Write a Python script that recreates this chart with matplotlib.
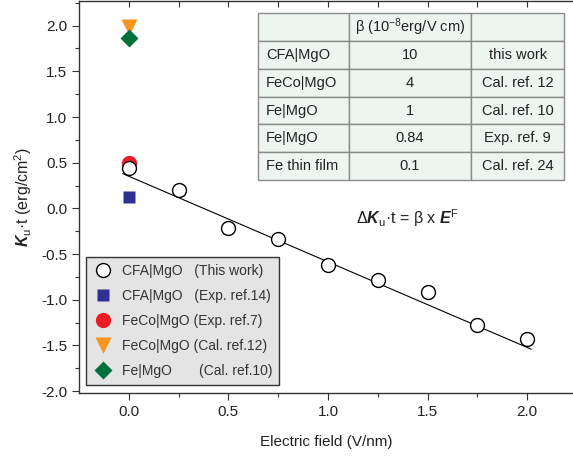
import matplotlib.pyplot as plt

plt.rcParams['font.family'] = ['Liberation Sans', 'DejaVu Sans']
plt.rcParams['mathtext.fontset'] = 'custom'
plt.rcParams['mathtext.rm'] = 'Liberation Sans'
plt.rcParams['mathtext.it'] = 'Liberation Sans:italic'
plt.rcParams['mathtext.bf'] = 'Liberation Sans:bold'
plt.rcParams['mathtext.bfit'] = 'Liberation Sans:bold:italic'

# data
field = [0.0, 0.25, 0.5, 0.75, 1.0, 1.25, 1.5, 1.75, 2.0]
ku_this = [0.44, 0.20, -0.21, -0.33, -0.62, -0.78, -0.92, -1.28, -1.43]
fit_x = [-0.03, 2.02]
fit_y = [0.38, -1.54]

ref_x = [0.0]
ku_cfa_exp = [0.13]
ku_feco_exp = [0.50]
ku_feco_cal = [1.99]
ku_fe_cal = [1.86]

table_rows = [['', 'β (10$^{-8}$erg/V cm)', ''],
              ['CFA|MgO', '10', 'this work'],
              ['FeCo|MgO', '4', 'Cal. ref. 12'],
              ['Fe|MgO', '1', 'Cal. ref. 10'],
              ['Fe|MgO', '0.84', 'Exp. ref. 9'],
              ['Fe thin film', '0.1', 'Cal. ref. 24']]

fig = plt.figure(figsize=(5.73, 4.58), dpi=100)
ax = fig.add_axes([0.1379, 0.1419, 0.862, 0.856])

ax.plot(fit_x, fit_y, color='k', lw=0.8, zorder=2)
ax.plot(field, ku_this, 'o', ms=10, mfc='white', mec='k', mew=1.0,
        label='CFA|MgO   (This work)', zorder=3)
ax.plot(ref_x, ku_cfa_exp, 's', ms=9, color='#2e3192', mec='none',
        label='CFA|MgO   (Exp. ref.14)')
ax.plot(ref_x, ku_feco_exp, 'o', ms=11, color='#ed1c24', mec='none',
        label='FeCo|MgO (Exp. ref.7)', zorder=2)
ax.plot(ref_x, ku_feco_cal, 'v', ms=12, color='#f7941d', mec='none',
        label='FeCo|MgO (Cal. ref.12)')
ax.plot(ref_x, ku_fe_cal, 'D', ms=9, color='#00703c', mec='none',
        label='Fe|MgO       (Cal. ref.10)')

ax.set_xlim(-0.25, 2.23)
ax.set_ylim(-2.02, 2.27)
ax.set_xticks([0.0, 0.5, 1.0, 1.5, 2.0])
ax.set_xticks([0.25, 0.75, 1.25, 1.75], minor=True)
ax.set_yticks([-2.0, -1.5, -1.0, -0.5, 0.0, 0.5, 1.0, 1.5, 2.0])
ax.set_yticks([-1.75, -1.25, -0.75, -0.25, 0.25, 0.75, 1.25, 1.75, 2.25], minor=True)
ax.set_xticklabels(['0.0', '0.5', '1.0', '1.5', '2.0'])
ax.set_yticklabels(['-2.0', '-1.5', '-1.0', '-0.5', '0.0', '0.5', '1.0', '1.5', '2.0'])
ax.tick_params(which='major', length=5, width=0.8, color='#333333',
               labelsize=11, labelcolor='#222222')
ax.tick_params(which='minor', length=3, width=0.8, color='#333333')
for s in ['left', 'bottom', 'top']:
    ax.spines[s].set_color('#333333')
    ax.spines[s].set_linewidth(1.0)
ax.spines['right'].set_visible(False)

top = ax.secondary_xaxis('top')
top.set_xticks([0.0, 0.5, 1.0, 1.5, 2.0])
top.set_xticks([0.25, 0.75, 1.25, 1.75], minor=True)
top.set_xticklabels([])
top.tick_params(which='both', direction='in', length=4, width=0.8, color='#333333')
top.spines['top'].set_visible(False)

ax.set_xlabel('Electric field (V/nm)', fontsize=11, color='#222222', labelpad=12)
ax.set_ylabel(r'$\boldsymbol{K}_\mathrm{u}$·t (erg/cm$^2$)', fontsize=11.5,
              color='#222222', labelpad=5)

leg = ax.legend(loc='lower left', bbox_to_anchor=(0.014, 0.02), fontsize=10,
                frameon=True, fancybox=False, handletextpad=0.7,
                labelspacing=0.8, borderpad=0.5, handlelength=1.4,
                borderaxespad=0)
leg.get_frame().set_facecolor('#e4e4e4')
leg.get_frame().set_edgecolor('#333333')
leg.get_frame().set_alpha(1)
for t in leg.get_texts():
    t.set_color('#333333')

tab = ax.table(cellText=table_rows, bbox=[0.362, 0.543, 0.62, 0.426],
               colWidths=[0.297, 0.40, 0.303], cellLoc='center')
tab.auto_set_font_size(False)
tab.set_fontsize(10.5)
for (r, c), cell in tab.get_celld().items():
    cell.set_facecolor('#eef5f1')
    cell.set_edgecolor('#8a8a8a')
    cell.set_linewidth(1.0)
    cell.get_text().set_color('#222222')
    if c == 0:
        cell.get_text().set_ha('left')
        cell.PAD = 0.09

ax.text(1.4, -0.11, r'Δ$\boldsymbol{K}_\mathrm{u}$·t = β x $\boldsymbol{E}^\mathrm{F}$',
        fontsize=11.5, ha='center', va='center', color='#222222')

fig.savefig('out.png', dpi=100)
